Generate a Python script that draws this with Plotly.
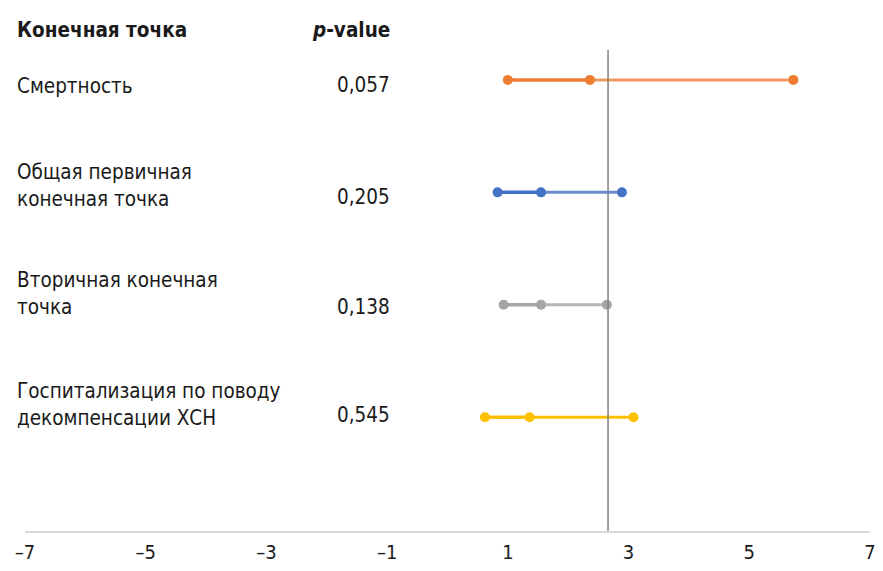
import plotly.graph_objects as go

# Data
endpoints = ["Смертность", "Общая первичная<br>конечная точка", "Вторичная конечная<br>точка",
             "Госпитализация по поводу<br>декомпенсации ХСН"]
p_values = ["0,057", "0,205", "0,138", "0,545"]
low = [1.00, 0.83, 0.93, 0.62]
mid = [2.36, 1.55, 1.55, 1.36]
high = [5.73, 2.89, 2.64, 3.08]
colors = ["#ED7D31", "#4472C4", "#A5A5A5", "#FFC000"]
light_colors = ["#F19A5F", "#6A8FD0", "#B5B5B5", "#FFC000"]
ref_line = 2.66
tick_vals = [-7, -5, -3, -1, 1, 3, 5, 7]
tick_text = ["–7", "–5", "–3", "–1", "1", "3", "5", "7"]

rows = [4, 3, 2, 1]
FONT = "DejaVu Sans Condensed, Liberation Sans Narrow, Roboto, sans-serif"
FS = 20.5
TXT = "#1a1a1a"

fig = go.Figure()
for i in range(4):
    y = rows[i]
    fig.add_trace(go.Scatter(x=[mid[i], high[i]], y=[y, y], mode="lines",
                             line=dict(color=light_colors[i], width=3), showlegend=False,
                             hoverinfo="skip"))
    fig.add_trace(go.Scatter(x=[low[i], mid[i]], y=[y, y], mode="lines",
                             line=dict(color=colors[i], width=3.5), showlegend=False,
                             hoverinfo="skip"))
    fig.add_trace(go.Scatter(x=[low[i], mid[i], high[i]], y=[y, y, y], mode="markers",
                             marker=dict(color=colors[i], size=10), showlegend=False))

fig.add_shape(type="line", x0=ref_line, x1=ref_line, y0=0, y1=1, xref="x", yref="paper",
              line=dict(color="#808080", width=1.5))

W, H = 875, 563
ML, MR, MT, MB = 12, 7, 42, 39
PW = W - ML - MR
PH = H - MT - MB
LX = (10 - 8 - ML) / PW
VX = (392 - 8 - ML) / PW
HY = (H - MB - (30 - 8)) / PH
ann = []
ann.append(dict(text="<b>Конечная точка</b>", x=LX, xanchor="left", y=HY, yref="paper",
                yanchor="middle",
                xref="paper", showarrow=False, font=dict(size=FS, color=TXT, family=FONT)))
ann.append(dict(text="<b><i>p</i>-value</b>", x=VX, xanchor="right", y=HY, yref="paper",
                yanchor="middle",
                xref="paper", showarrow=False, font=dict(size=FS, color=TXT, family=FONT)))
lab_shift = [-6, 7, 11, 13]
val_shift = [-5, -5, -2, 2]
for i in range(4):
    ann.append(dict(text=endpoints[i], x=LX, xanchor="left", y=rows[i], yref="y",
                    yanchor="middle", yshift=lab_shift[i],
                    xref="paper", showarrow=False, align="left",
                    font=dict(size=FS, color=TXT, family=FONT)))
    ann.append(dict(text=p_values[i], x=VX, xanchor="right", y=rows[i], yref="y",
                    yshift=val_shift[i], xref="paper", showarrow=False,
                    font=dict(size=FS, color=TXT, family=FONT)))

fig.update_layout(
    width=W, height=H,
    margin=dict(l=ML, r=MR, t=MT, b=MB),
    plot_bgcolor="white", paper_bgcolor="white",
    annotations=ann,
    xaxis=dict(range=[-7, 7], tickvals=tick_vals, ticktext=tick_text, showgrid=False,
               zeroline=False, showline=True, linecolor="#D9D9D9", linewidth=1.5,
               ticks="outside", ticklen=2, tickcolor="rgba(0,0,0,0)",
               tickfont=dict(size=20, color=TXT, family=FONT)),
    yaxis=dict(range=[-0.012, 4.266], visible=False, fixedrange=True),
)

fig.write_html("out.html")
